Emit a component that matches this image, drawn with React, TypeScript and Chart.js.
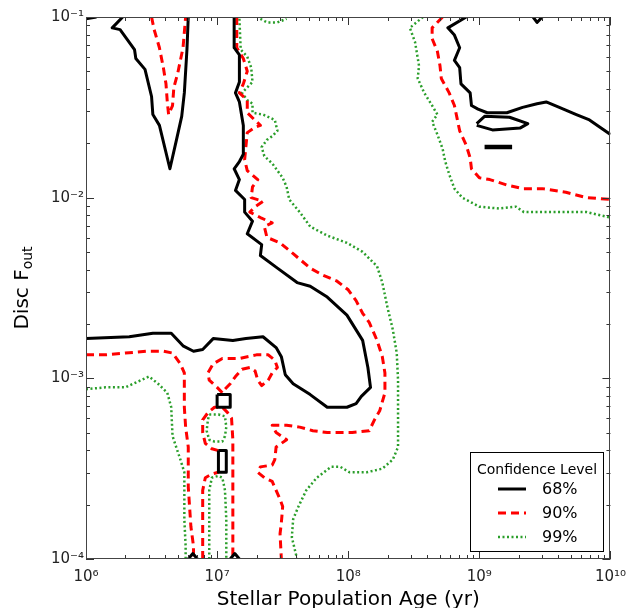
import React, { useEffect, useRef } from 'react';
import { Chart, registerables } from 'chart.js';
Chart.register(...registerables);

// ---- axis ticks (decades) ----
const xMajorExp = [6, 7, 8, 9, 10];
const yMajorExp = [-4, -3, -2, -1];
const levelLabels = ['68%', '90%', '99%'];
const legendTitle = 'Confidence Level';
const xTitle = 'Stellar Population Age (yr)';
const yTitleMain = 'Disc F';
const yTitleSub = 'out';

// ---- contour paths: [log10(age / yr), log10(F_out)] ----
// 68% confidence (solid black)
const c68Corner = [[6.0, -1.01], [6.08, -1.0]];
const c68Tongue = [[6.28, -1], [6.20, -1.06], [6.26, -1.07], [6.37, -1.18], [6.38, -1.23], [6.45, -1.29], [6.50, -1.44], [6.51, -1.54], [6.56, -1.60], [6.64, -1.84], [6.69, -1.68], [6.73, -1.55], [6.75, -1.42], [6.77, -1.18], [6.78, -1]];
const c68Main = [[7.13, -1.0], [7.13, -1.17], [7.17, -1.21], [7.17, -1.36], [7.14, -1.42], [7.17, -1.47], [7.20, -1.60], [7.20, -1.76], [7.17, -1.80], [7.13, -1.84], [7.17, -1.90], [7.14, -1.96], [7.21, -2.01], [7.21, -2.08], [7.27, -2.13], [7.23, -2.20], [7.34, -2.26], [7.33, -2.32], [7.46, -2.39], [7.61, -2.47], [7.71, -2.49], [7.84, -2.55], [7.99, -2.65], [8.11, -2.79], [8.15, -2.94], [8.17, -3.05], [8.10, -3.10], [8.06, -3.14], [7.99, -3.16], [7.84, -3.16], [7.71, -3.09], [7.58, -3.03], [7.52, -2.98], [7.49, -2.88], [7.45, -2.83], [7.35, -2.77], [7.22, -2.78], [7.12, -2.79], [6.97, -2.78], [6.89, -2.84], [6.82, -2.85], [6.74, -2.82], [6.65, -2.75], [6.51, -2.75], [6.33, -2.77], [6.0, -2.78]];
const c68Square = [[7.0, -3.09], [7.10, -3.09], [7.10, -3.16], [7.0, -3.16], [7.0, -3.09]];
const c68Rect = [[7.01, -3.40], [7.07, -3.40], [7.07, -3.52], [7.01, -3.52], [7.01, -3.40]];
const c68TriA = [[6.78, -4.0], [6.815, -3.97], [6.85, -4.0]];
const c68TriB = [[7.10, -4.0], [7.135, -3.97], [7.17, -4.0]];
const c68Right = [[8.90, -1.0], [8.76, -1.06], [8.81, -1.10], [8.85, -1.17], [8.81, -1.24], [8.85, -1.28], [8.86, -1.37], [8.93, -1.42], [8.94, -1.49], [8.99, -1.51], [9.06, -1.53], [9.21, -1.53], [9.33, -1.50], [9.44, -1.48], [9.51, -1.47], [9.61, -1.50], [9.74, -1.54], [9.84, -1.57], [9.92, -1.61], [10.0, -1.65]];
const c68Island = [[8.98, -1.59], [9.04, -1.55], [9.23, -1.555], [9.37, -1.59], [9.31, -1.615], [9.10, -1.625], [8.98, -1.60]];
const c68Bar = [[9.04, -1.72], [9.25, -1.72]];
const c68TopTri = [[9.41, -1.0], [9.44, -1.03], [9.48, -1.0]];

// 90% confidence (dashed red)
const c90Tongue = [[6.50, -1.0], [6.52, -1.07], [6.56, -1.17], [6.59, -1.28], [6.61, -1.37], [6.62, -1.47], [6.63, -1.54], [6.66, -1.49], [6.67, -1.39], [6.70, -1.31], [6.74, -1.17], [6.76, -1.0]];
const c90Main = [[7.15, -1.0], [7.15, -1.17], [7.20, -1.23], [7.23, -1.30], [7.20, -1.37], [7.17, -1.42], [7.23, -1.46], [7.23, -1.53], [7.33, -1.60], [7.29, -1.61], [7.23, -1.64], [7.21, -1.79], [7.23, -1.85], [7.31, -1.90], [7.27, -1.94], [7.26, -2.00], [7.35, -2.02], [7.29, -2.05], [7.25, -2.08], [7.33, -2.11], [7.42, -2.14], [7.36, -2.16], [7.38, -2.22], [7.48, -2.25], [7.58, -2.31], [7.71, -2.39], [7.81, -2.43], [7.91, -2.46], [8.00, -2.51], [8.06, -2.57], [8.11, -2.64], [8.16, -2.69], [8.22, -2.79], [8.26, -2.88], [8.28, -2.97], [8.28, -3.08], [8.24, -3.18], [8.20, -3.23], [8.16, -3.29], [8.03, -3.30], [7.94, -3.30], [7.84, -3.30], [7.73, -3.29], [7.63, -3.27], [7.53, -3.26], [7.42, -3.26], [7.45, -3.30], [7.53, -3.34], [7.45, -3.38], [7.44, -3.45], [7.42, -3.48], [7.33, -3.49], [7.31, -3.52], [7.36, -3.55], [7.42, -3.57], [7.48, -3.67], [7.50, -3.71], [7.49, -3.80], [7.48, -3.86], [7.49, -4.0]];
const c90Left = [[6.0, -2.87], [6.15, -2.87], [6.30, -2.86], [6.46, -2.85], [6.59, -2.85], [6.66, -2.86], [6.72, -2.92], [6.75, -2.97], [6.75, -3.05], [6.75, -3.16], [6.76, -3.27], [6.78, -3.38], [6.78, -3.49], [6.78, -3.60], [6.79, -3.71], [6.80, -3.82], [6.82, -3.93], [6.82, -4.0]];
const c90Loop = [[7.04, -3.08], [7.00, -3.05], [6.94, -3.01], [6.93, -2.97], [6.97, -2.92], [7.04, -2.89], [7.17, -2.89], [7.30, -2.87], [7.39, -2.87], [7.44, -2.90], [7.46, -2.94], [7.42, -2.97], [7.39, -3.01], [7.34, -3.04], [7.31, -3.01], [7.29, -2.96], [7.25, -2.94], [7.19, -2.95], [7.14, -2.99], [7.10, -3.03], [7.06, -3.06]];
const c90ColA = [[6.89, -4.0], [6.89, -3.78], [6.89, -3.62], [6.91, -3.55], [6.96, -3.53], [7.01, -3.52]];
const c90ColB = [[7.01, -3.40], [6.96, -3.39], [6.91, -3.36], [6.89, -3.30], [6.89, -3.23], [6.93, -3.19], [6.98, -3.16], [7.04, -3.16], [7.08, -3.19], [7.11, -3.22], [7.12, -3.34], [7.12, -3.51], [7.12, -3.67], [7.12, -3.84], [7.12, -4.0]];
const c90Right = [[8.72, -1.0], [8.64, -1.06], [8.64, -1.12], [8.68, -1.19], [8.70, -1.27], [8.71, -1.34], [8.77, -1.42], [8.81, -1.49], [8.83, -1.56], [8.85, -1.63], [8.90, -1.71], [8.93, -1.78], [8.94, -1.84], [9.00, -1.89], [9.08, -1.90], [9.21, -1.93], [9.33, -1.95], [9.48, -1.95], [9.66, -1.97], [9.82, -2.00], [10.0, -2.01]];

// 99% confidence (dotted green)
const c99TopBump = [[7.33, -1.01], [7.38, -1.03], [7.46, -1.03], [7.53, -1.01]];
const c99Main = [[7.17, -1.01], [7.18, -1.18], [7.23, -1.22], [7.26, -1.28], [7.27, -1.36], [7.23, -1.39], [7.19, -1.42], [7.23, -1.46], [7.27, -1.48], [7.27, -1.53], [7.35, -1.54], [7.44, -1.57], [7.46, -1.63], [7.42, -1.66], [7.38, -1.68], [7.34, -1.72], [7.36, -1.77], [7.42, -1.81], [7.50, -1.89], [7.53, -1.94], [7.55, -2.01], [7.63, -2.08], [7.71, -2.16], [7.84, -2.21], [7.99, -2.25], [8.11, -2.30], [8.22, -2.38], [8.26, -2.47], [8.30, -2.61], [8.34, -2.73], [8.37, -2.86], [8.38, -3.01], [8.38, -3.38], [8.34, -3.45], [8.26, -3.50], [8.14, -3.52], [8.01, -3.52], [7.94, -3.49], [7.87, -3.49], [7.76, -3.55], [7.68, -3.62], [7.62, -3.71], [7.58, -3.78], [7.57, -3.88], [7.61, -4.0]];
const c99Left = [[6.0, -3.06], [6.15, -3.05], [6.30, -3.05], [6.48, -2.99], [6.55, -3.03], [6.62, -3.08], [6.65, -3.16], [6.66, -3.32], [6.72, -3.45], [6.75, -3.52], [6.75, -3.63], [6.75, -3.78], [6.76, -3.93], [6.76, -4.0]];
const c99Ring = [[6.94, -3.20], [7.01, -3.20], [7.06, -3.21], [7.07, -3.27], [7.06, -3.32], [7.04, -3.35], [6.98, -3.35], [6.94, -3.34], [6.92, -3.29], [6.93, -3.23], [6.94, -3.20]];
const c99Col = [[6.94, -4.0], [6.94, -3.78], [6.94, -3.62], [6.96, -3.55], [7.01, -3.54], [7.04, -3.55], [7.06, -3.62], [7.07, -3.78], [7.07, -4.0]];
const c99Right = [[8.57, -1.0], [8.47, -1.06], [8.51, -1.14], [8.54, -1.27], [8.53, -1.34], [8.58, -1.42], [8.64, -1.49], [8.68, -1.54], [8.64, -1.58], [8.68, -1.65], [8.72, -1.73], [8.74, -1.80], [8.77, -1.87], [8.81, -1.95], [8.87, -2.00], [9.00, -2.05], [9.15, -2.06], [9.28, -2.05], [9.34, -2.08], [9.46, -2.08], [9.66, -2.08], [9.82, -2.08], [10.0, -2.11]];

const contours68 = [c68Corner, c68Tongue, c68Main, c68Square, c68Rect, c68TriA, c68TriB, c68Right, c68Island, c68Bar, c68TopTri];
const contours90 = [c90Tongue, c90Main, c90Left, c90Loop, c90ColA, c90ColB, c90Right];
const contours99 = [c99TopBump, c99Main, c99Left, c99Ring, c99Col, c99Right];

const FONT = "'DejaVu Sans', 'Liberation Sans', sans-serif";
const levelStyles = [
  { color: '#000000', width: 3, dash: [] as number[] },
  { color: '#ff0000', width: 3, dash: [8, 5] },
  { color: '#2a9e2a', width: 2.5, dash: [2, 2.5] },
];

const SUP: Record<string, string> = { '0': '⁰', '1': '¹', '2': '²', '3': '³', '4': '⁴', '5': '⁵', '6': '⁶', '7': '⁷', '8': '⁸', '9': '⁹', '-': '⁻' };
const supStr = (n: number) => String(n).split('').map((c) => SUP[c] || c).join('');

function decadeTicks(exps: number[]) {
  const vals: number[] = [];
  for (let i = 0; i < exps.length; i++) {
    const e = exps[i];
    if (i === exps.length - 1) { vals.push(Math.pow(10, e)); break; }
    for (let m = 1; m <= 9; m++) vals.push(m * Math.pow(10, e));
  }
  return vals;
}
const isDecade = (v: number) => Math.abs(Math.log10(v) - Math.round(Math.log10(v))) < 1e-9;

const decorPlugin = {
  id: 'decor',
  afterDatasetsDraw(chart: any) {
    const { ctx, chartArea: a } = chart;
    const xs = chart.scales.x, ys = chart.scales.y;
    ctx.save();
    ctx.strokeStyle = '#333';
    ctx.lineWidth = 1;
    ctx.setLineDash([]);
    ctx.beginPath();
    for (const t of xs.ticks) {
      const px = Math.round(xs.getPixelForValue(t.value)) + 0.5;
      const len = isDecade(t.value) ? 8 : 4;
      ctx.moveTo(px, a.bottom); ctx.lineTo(px, a.bottom - len);
      ctx.moveTo(px, a.top); ctx.lineTo(px, a.top + len);
    }
    for (const t of ys.ticks) {
      const py = Math.round(ys.getPixelForValue(t.value)) + 0.5;
      const len = isDecade(t.value) ? 8 : 4;
      ctx.moveTo(a.left, py); ctx.lineTo(a.left + len, py);
      ctx.moveTo(a.right, py); ctx.lineTo(a.right - len, py);
    }
    ctx.stroke();
    ctx.strokeStyle = '#444';
    ctx.strokeRect(Math.round(a.left) + 0.5, Math.round(a.top) + 0.5, Math.round(a.right - a.left) - 1, Math.round(a.bottom - a.top) - 1);
    ctx.restore();
  },
  afterDraw(chart: any) {
    const { ctx, chartArea: a } = chart;
    ctx.save();
    // legend
    const bx = 470.5, by = 452.5, bw = 133, bh = 99;
    ctx.fillStyle = '#ffffff';
    ctx.fillRect(bx, by, bw, bh);
    ctx.strokeStyle = '#000';
    ctx.lineWidth = 1;
    ctx.setLineDash([]);
    ctx.strokeRect(bx, by, bw, bh);
    ctx.fillStyle = '#000';
    ctx.textAlign = 'center';
    ctx.textBaseline = 'middle';
    ctx.font = `14px ${FONT}`;
    ctx.fillText(legendTitle, bx + bw / 2, 470);
    ctx.font = `16px ${FONT}`;
    ctx.textAlign = 'left';
    levelLabels.forEach((lab, i) => {
      const y = 489 + i * 24;
      const s = levelStyles[i];
      ctx.strokeStyle = s.color;
      ctx.lineWidth = s.width;
      ctx.setLineDash(s.dash);
      ctx.beginPath();
      ctx.moveTo(498, y); ctx.lineTo(526, y);
      ctx.stroke();
      ctx.setLineDash([]);
      ctx.fillText(lab, 542, y + 1);
    });
    // x title
    ctx.textAlign = 'center';
    ctx.textBaseline = 'alphabetic';
    ctx.font = `20px ${FONT}`;
    ctx.fillText(xTitle, (a.left + a.right) / 2, 605);
    // y title with subscript
    ctx.translate(28, (a.top + a.bottom) / 2);
    ctx.rotate(-Math.PI / 2);
    ctx.font = `20px ${FONT}`;
    const w1 = ctx.measureText(yTitleMain).width;
    ctx.font = `14px ${FONT}`;
    const w2 = ctx.measureText(yTitleSub).width;
    const start = -(w1 + w2) / 2;
    ctx.textAlign = 'left';
    ctx.font = `20px ${FONT}`;
    ctx.fillText(yTitleMain, start, 0);
    ctx.font = `14px ${FONT}`;
    ctx.fillText(yTitleSub, start + w1, 4);
    ctx.restore();
  },
};

export default function App() {
  const ref = useRef<HTMLCanvasElement | null>(null);
  useEffect(() => {
    if (!ref.current) return;
    const groups = [contours68, contours90, contours99];
    const datasets: any[] = [];
    groups.forEach((g, li) => {
      const s = levelStyles[li];
      g.forEach((path) => {
        datasets.push({
          label: levelLabels[li],
          data: path.map(([lx, ly]) => ({ x: Math.pow(10, lx), y: Math.pow(10, ly) })),
          borderColor: s.color,
          borderWidth: path === c68Bar ? 4.5 : s.width,
          borderDash: s.dash,
          borderJoinStyle: 'round',
          pointRadius: 0,
          pointHoverRadius: 0,
          fill: false,
          tension: 0,
          clip: 0,
        });
      });
    });
    const chart = new Chart(ref.current, {
      type: 'line',
      data: { datasets },
      options: {
        animation: false,
        responsive: false,
        events: [],
        layout: { padding: { top: 17, right: 24, left: 0, bottom: 0 } },
        plugins: { legend: { display: false }, tooltip: { enabled: false } },
        scales: {
          x: {
            type: 'logarithmic',
            min: 1e6,
            max: 1e10,
            grid: { display: false, drawTicks: false },
            border: { display: false },
            afterBuildTicks: (s: any) => { s.ticks = decadeTicks(xMajorExp).map((v) => ({ value: v })); },
            afterFit: (s: any) => { s.height = 49; },
            ticks: {
              autoSkip: false,
              maxRotation: 0,
              padding: 9,
              color: '#222',
              font: { family: FONT, size: 15 },
              callback: (v: any) => (isDecade(Number(v)) ? '10' + supStr(Math.round(Math.log10(Number(v)))) : ''),
            },
          },
          y: {
            type: 'logarithmic',
            min: 1e-4,
            max: 1e-1,
            grid: { display: false, drawTicks: false },
            border: { display: false },
            afterBuildTicks: (s: any) => { s.ticks = decadeTicks(yMajorExp).map((v) => ({ value: v })); },
            afterFit: (s: any) => { s.width = 86; },
            ticks: {
              autoSkip: false,
              padding: 2,
              color: '#222',
              font: { family: FONT, size: 15 },
              callback: (v: any) => (isDecade(Number(v)) ? '10' + supStr(Math.round(Math.log10(Number(v)))) : ''),
            },
          },
        },
      },
      plugins: [decorPlugin],
    });
    return () => chart.destroy();
  }, []);
  return (
    <div style={{ position: 'absolute', left: 0, top: 0, width: 635, height: 608, background: '#fff' }}>
      <canvas ref={ref} width={635} height={608} style={{ display: 'block', width: 635, height: 608 }} />
    </div>
  );
}
